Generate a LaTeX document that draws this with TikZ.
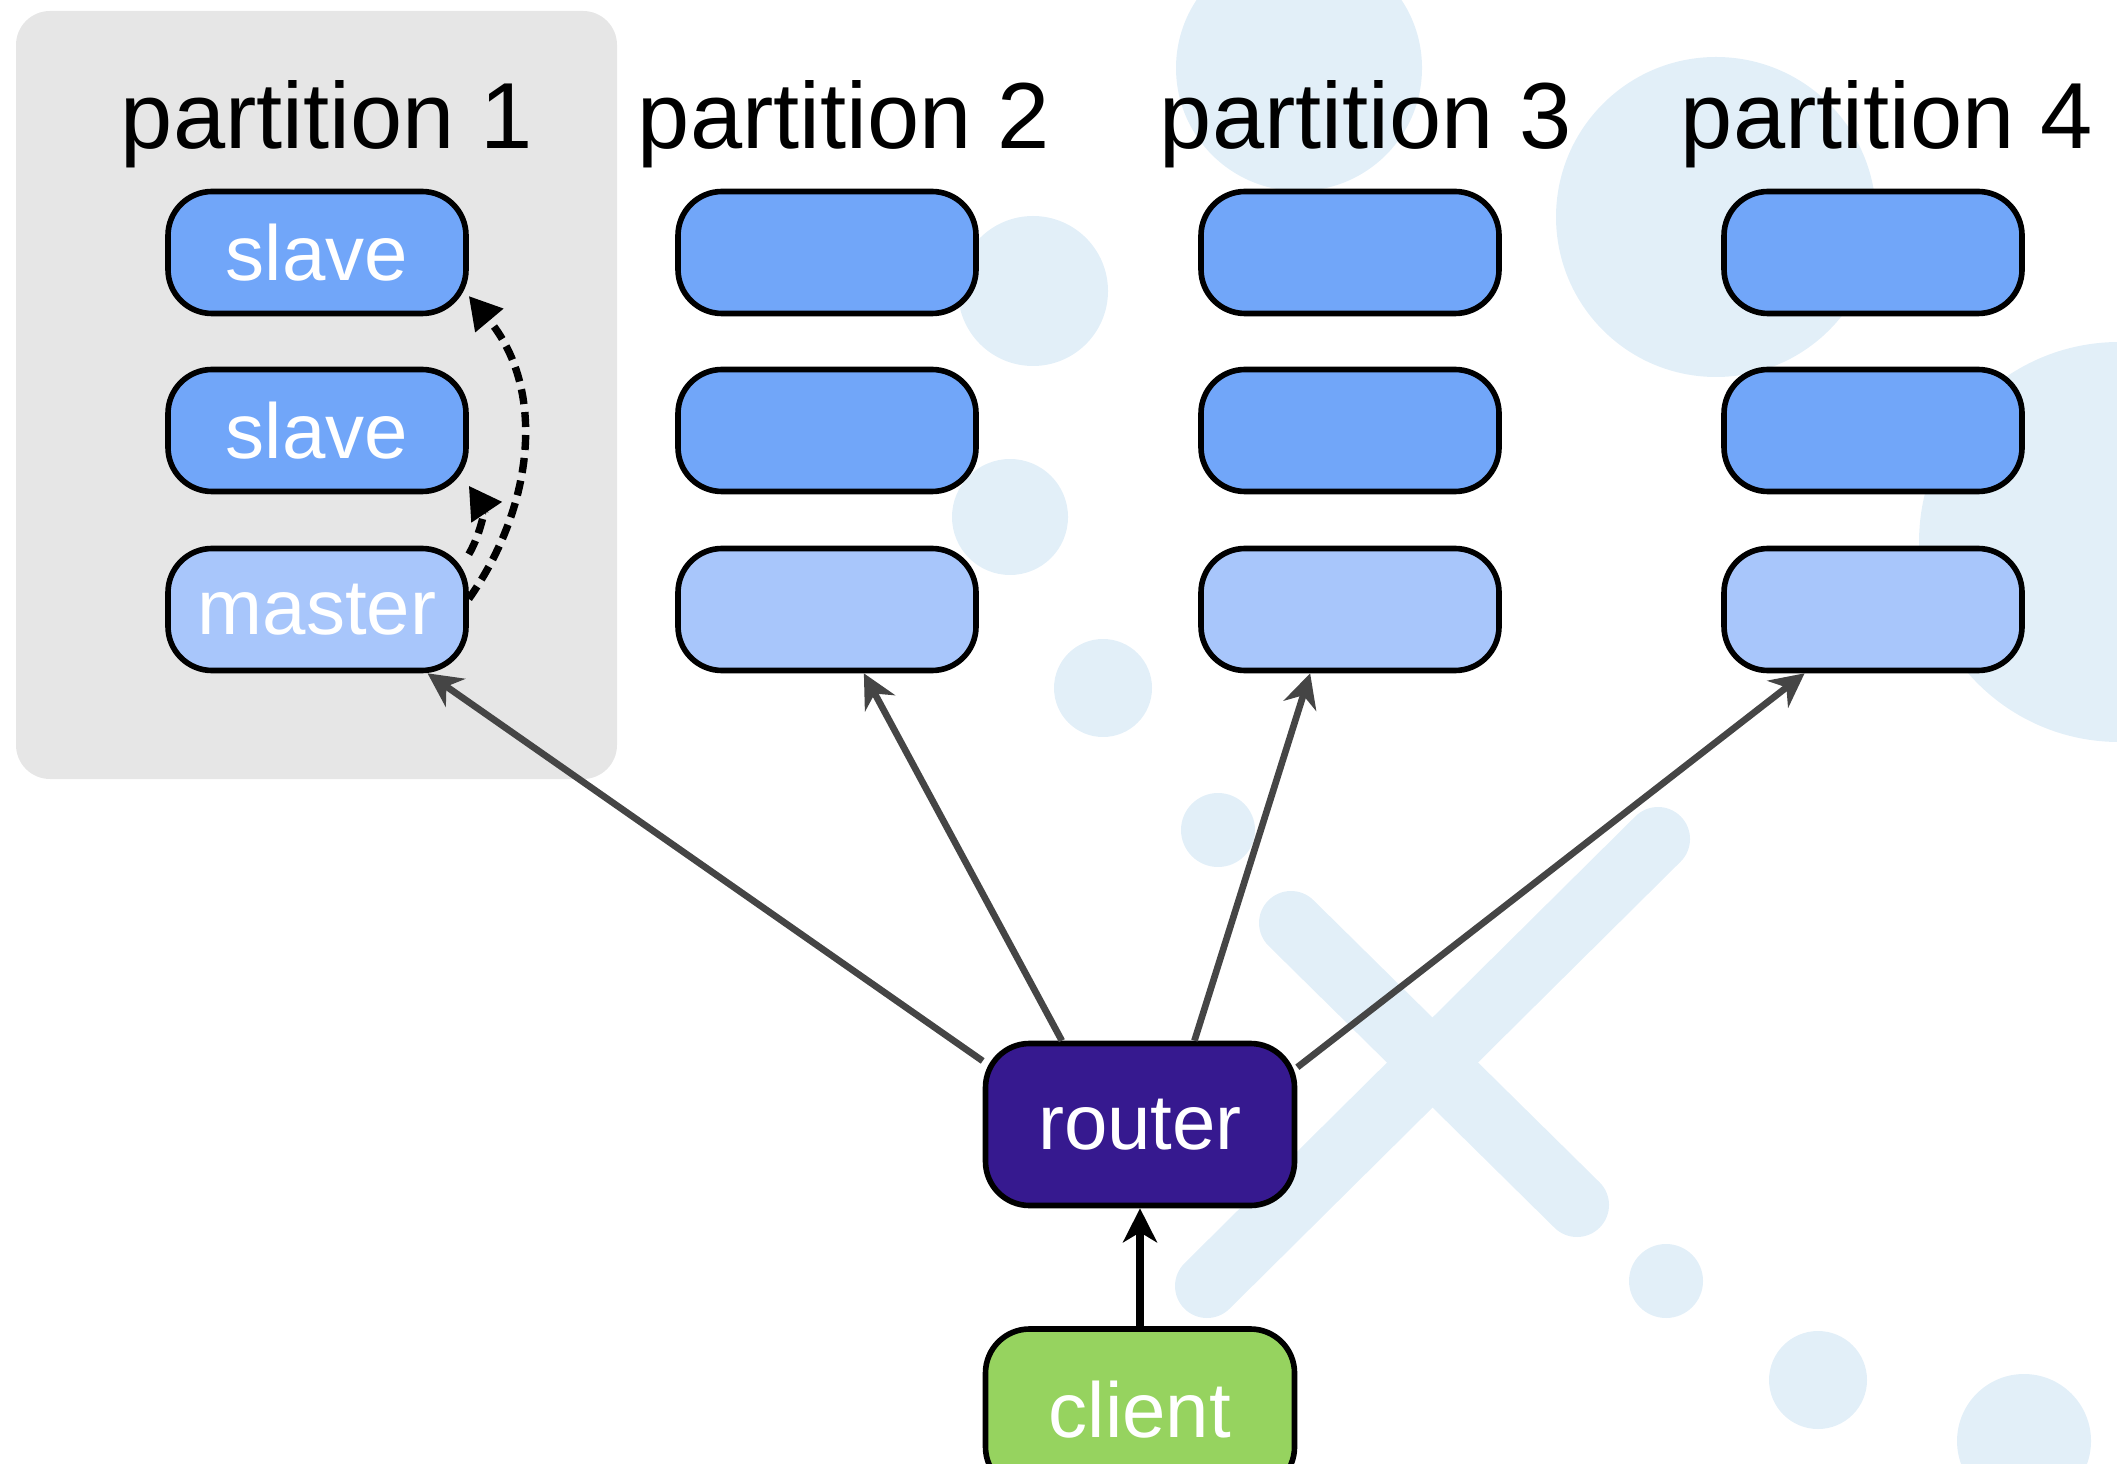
\documentclass[tikz,border=0pt]{standalone}
\usepackage{fontspec}
\setmainfont{Liberation Sans}
\usetikzlibrary{arrows.meta}

\definecolor{slavecol}{RGB}{113,166,249}
\definecolor{mastercol}{RGB}{168,198,251}
\definecolor{routercol}{RGB}{54,25,143}
\definecolor{clientcol}{RGB}{150,211,95}
\definecolor{panelcol}{RGB}{230,230,230}
\definecolor{bgblue}{RGB}{226,239,248}

\begin{document}
\begin{tikzpicture}[
    box/.style={draw, line width=1.6pt, rounded corners=0.44cm, minimum width=2.98cm,
      minimum height=1.22cm, text=white, font=\fontsize{22.2}{26}\selectfont},
    slavebox/.style={box, fill=slavecol},
    masterbox/.style={box, fill=mastercol},
    bigbox/.style={box, minimum width=3.09cm, minimum height=1.62cm},
    title/.style={anchor=base, font=\fontsize{26.7}{32}\selectfont},
    route/.style={draw=black!73, line width=1.9pt,
      -{Stealth[length=0.34cm, width=0.34cm, inset=0.11cm]}},
    request/.style={draw, line width=2.3pt,
      -{Stealth[length=0.34cm, width=0.34cm, inset=0.1cm]}},
    sync/.style={draw, line width=2.1pt, dash pattern=on 0.15cm off 0.08cm,
      -{Triangle[length=0.32cm, width=0.35cm]}}
  ]
    \useasboundingbox (0,0) rectangle (21.17,14.63);
    \clip (0,0) rectangle (21.17,14.63);

    % background decoration
    \fill[bgblue] (12.99,13.95) circle (1.23);
    \fill[bgblue] (17.16,12.46) circle (1.60);
    \fill[bgblue] (21.19,9.21) circle (2.00);
    \fill[bgblue] (10.33,11.72) circle (0.75);
    \fill[bgblue] (10.10,9.46) circle (0.58);
    \fill[bgblue] (11.03,7.75) circle (0.49);
    \fill[bgblue] (12.18,6.33) circle (0.37);
    \fill[bgblue] (16.66,1.82) circle (0.37);
    \fill[bgblue] (18.18,0.83) circle (0.49);
    \fill[bgblue] (20.24,0.22) circle (0.67);
    \draw[bgblue, line width=0.64cm, line cap=round] (12.91,5.40) -- (15.77,2.58);
    \draw[bgblue, line width=0.64cm, line cap=round] (16.58,6.24) -- (12.07,1.77);

    \fill[panelcol, rounded corners=0.34cm] (0.16,6.84) rectangle (6.17,14.52);

    \node[title] (t1) at (3.27,13.145) {partition 1};
    \node[title] (t2) at (8.44,13.145) {partition 2};
    \node[title] (t3) at (13.66,13.145) {partition 3};
    \node[title] (t4) at (18.87,13.145) {partition 4};

    \node[slavebox] (s1a) at (3.17,12.105) {slave};
    \node[slavebox] (s1b) at (3.17,10.325) {slave};
    \node[masterbox] (m1) at (3.17,8.535) {master};
    \node[slavebox] (s2a) at (8.27,12.105) {};
    \node[slavebox] (s2b) at (8.27,10.325) {};
    \node[masterbox] (m2) at (8.27,8.535) {};
    \node[slavebox] (s3a) at (13.50,12.105) {};
    \node[slavebox] (s3b) at (13.50,10.325) {};
    \node[masterbox] (m3) at (13.50,8.535) {};
    \node[slavebox] (s4a) at (18.73,12.105) {};
    \node[slavebox] (s4b) at (18.73,10.325) {};
    \node[masterbox] (m4) at (18.73,8.535) {};

    \node[bigbox, fill=routercol] (router) at (11.40,3.385) {router};
    \node[bigbox, fill=clientcol] (client) at (11.40,0.53) {client};

    \draw[sync] (m1.4) to[out=55, in=-50] (s1a.-16);
    \draw[sync] (m1.20) to[out=60, in=-56] (s1b.-20);

    \draw[route] (router.158) -- (m1.-30);
    \draw[route] (router.133) -- (m2.-60);
    \draw[route] (router.57) -- (m3.-122);
    \draw[route] (router.20) -- (m4.-137);
    \draw[request] (client.north) -- (router.south);
  \end{tikzpicture}
\end{document}
